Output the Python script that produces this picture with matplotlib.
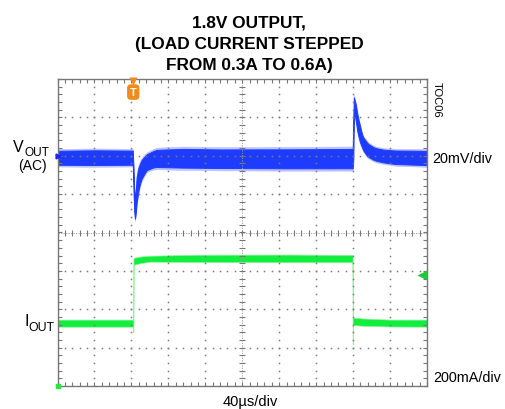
import numpy as np
import matplotlib
matplotlib.use('Agg')
import matplotlib.pyplot as plt
from matplotlib import font_manager as fm

# ---------------- data ----------------
# Channel 1: output voltage (AC coupled), mV, envelope of the noisy trace
t_v = [0, 40, 81.5, 82.2, 83.0, 83.9, 84.8, 85.7, 87.5, 89.3, 91.1, 94.7, 96.6,
       103.7, 107.4, 136, 176, 250, 319.6, 320.2, 320.8, 321.6, 323.0, 324.5,
       326.0, 327.5, 329.7, 331.0, 335.0, 336.5, 342.0, 345.5, 353, 366, 400]
v_hi = [3.5, 3.8, 3.6, -4, -16, -22, -16, -9.5, -5, -2.8, -1, 0.9, 1.8,
        3.5, 4.2, 4.8, 4.5, 4.6, 4.8, 20, 31.8, 30, 27.5, 23,
        19.5, 16.5, 12, 10.4, 7.8, 7.0, 5.3, 4.7, 4.0, 3.6, 3.5]
v_lo = [-5.6, -5.8, -5.6, -18, -30, -34, -31, -26, -20, -16, -13.2, -10, -8.5,
        -7.2, -7.0, -7.4, -7.6, -7.8, -7.8, -4, 18, 21, 17, 12,
        8.7, 6, 3.5, 2, -0.8, -1.4, -2.9, -3.5, -4.3, -5.2, -5.8]

# Channel 2: load current, mA, envelope of the trace
t_i = [0, 81.8, 82.0, 82.2, 82.4, 90, 100, 150, 250, 319.3, 319.5, 319.8,
       320.1, 330, 360, 400]
i_hi = [346, 346, 345, 660, 668, 675, 679, 684, 685, 683, 683, 355,
        357, 352, 346, 346]
i_lo = [309, 309, 280, 280, 632, 640, 648, 646, 645, 645, 216, 216,
        318, 314, 310, 309]

title_lines = ["1.8V OUTPUT,", "(LOAD CURRENT STEPPED", "FROM 0.3A TO 0.6A)"]
v_scale_label = "20mV/div"
i_scale_label = "200mA/div"
time_label = "40\u00b5s/div"
toc_label = "TOC06"

# scope settings
T_DIV = 40.0      # us/div
V_DIV = 20.0      # mV/div
I_DIV = 200.0     # mA/div
V_POS = 2.0       # div (channel 1 reference position)
I_POS = -4.0      # div (channel 2 ground position)
T_TRIG = 82.0     # us
I_TRIG = -1.1     # div (trigger level marker)

# ---------------- styling ----------------
names = {f.name for f in fm.fontManager.ttflist}
NARROW = 'Liberation Sans Narrow' in names
FONT = 'Liberation Sans'
plt.rcParams['font.family'] = [FONT, 'DejaVu Sans']

BLUE = '#1e3cff'
BLUE_HALO = '#a3adff'
GREEN = '#12ee3e'
GREEN_HALO = '#8ef59c'

W, H = 505, 410
fig = plt.figure(figsize=(W / 100, H / 100), dpi=100)
fig.patch.set_facecolor('white')

L, R, T, B = 57.5, 427.0, 80.0, 387.0
rect = [L / W, 1 - B / H, (R - L) / W, (B - T) / H]

# voltage channel axes (mV)
axv = fig.add_axes(rect, frameon=False)
axv.set_xlim(0, 10 * T_DIV)
axv.set_ylim((-4 - V_POS) * V_DIV, (4 - V_POS) * V_DIV)
axv.axis('off')
tv = np.array(t_v); vh = np.array(v_hi); vl = np.array(v_lo)
vm = (vh + vl) / 2; vw = (vh - vl) / 2
axv.fill_between(tv, vl, vh, color=BLUE_HALO, lw=0.4, alpha=0.7)
axv.fill_between(tv, vm - 0.8 * vw, vm + 0.8 * vw, color=BLUE,
                 lw=0.7, ec=BLUE)

# current channel axes (mA)
axi = fig.add_axes(rect, frameon=False)
axi.set_xlim(0, 10 * T_DIV)
axi.set_ylim((-4 - I_POS) * I_DIV, (4 - I_POS) * I_DIV)
axi.axis('off')
ti = np.array(t_i); ih = np.array(i_hi); il = np.array(i_lo)
axi.fill_between(ti, il, ih, color=GREEN, lw=0.5, ec=GREEN_HALO)

# grid axes in divisions (drawn on top, transparent)
ax = fig.add_axes(rect)
ax.set_zorder(5)
ax.patch.set_alpha(0)
ax.set_xlim(0, 10)
ax.set_ylim(-4, 4)
for s in ax.spines.values():
    s.set_color('#777777')
    s.set_linewidth(1.0)
ax.set_xticks([])
ax.set_yticks([])
ax.set_xticks(np.arange(0, 10.01, 0.2), minor=True)
ax.set_yticks(np.arange(-4, 4.01, 0.2), minor=True)
ax.tick_params(which='minor', direction='in', length=3, width=0.8,
               color='#777777', top=True, right=True,
               labelbottom=False, labelleft=False)

dot_c = '#7a7a7a'
xs = np.arange(0, 10.001, 0.2)
ys = np.arange(-4, 4.001, 0.2)
for gx in range(1, 10):
    if gx == 5:
        continue
    ax.plot(np.full_like(ys, gx), ys, ls='none', marker='s', ms=1.1,
            mec='none', mfc=dot_c, zorder=1)
for gy in range(-3, 4):
    if gy == 0:
        continue
    ax.plot(xs, np.full_like(xs, gy), ls='none', marker='s', ms=1.1,
            mec='none', mfc=dot_c, zorder=1)
# centre cross with ticks
ax.plot([0, 10], [0, 0], color='#999999', lw=0.6, ls=(0, (1.5, 1.5)), zorder=1)
ax.plot([5, 5], [-4, 4], color='#999999', lw=0.6, ls=(0, (1.5, 1.5)), zorder=1)
ax.plot(xs, np.zeros_like(xs), ls='none', marker='|', ms=4.5, mew=0.8,
        color='#777777', zorder=1)
ax.plot(np.full_like(ys, 5), ys, ls='none', marker='_', ms=4.5, mew=0.8,
        color='#777777', zorder=1)

# channel markers
ax.plot([0], [V_POS], marker='>', ms=3.5, color='#2020ff', clip_on=False, zorder=5)
ax.plot([0], [I_POS], marker='s', ms=3.5, color='#2ee23c', clip_on=False, zorder=5)
ax.plot([9.86], [I_TRIG], marker='<', ms=6.5, color='#20c83a', mec='none', zorder=5)
ax.plot([9.86, 9.99], [I_TRIG, I_TRIG], color='#20c83a', lw=1.0, zorder=5)

# trigger marker (orange "T")
tx = T_TRIG / T_DIV
ax.plot([tx], [3.96], marker='v', ms=6, color='#f08a1c', mec='none',
        clip_on=False, zorder=6)
ax.text(tx, 3.66, 'T', ha='center', va='center', color='white', fontsize=8,
        fontweight='bold',
        bbox=dict(boxstyle='round,pad=0.25,rounding_size=0.35', fc='#f08a1c',
                  ec='none'), zorder=6)

# ---------------- text ----------------
def fx(px):
    return px / W

def fy(py):
    return 1 - py / H

if NARROW:
    tfam, tsize = ['Liberation Sans Narrow', FONT], 14.6
else:
    tfam, tsize = [FONT], 12.4
for line, base in zip(title_lines, [27.5, 49.0, 70.5]):
    fig.text(fx(249), fy(base), line, ha='center', va='baseline',
             family=tfam, fontsize=tsize, fontweight='bold')

fig.text(fx(432), fy(163), v_scale_label, ha='left', va='baseline', fontsize=10.4)
fig.text(fx(433), fy(382.5), i_scale_label, ha='left', va='baseline', fontsize=10.4)
fig.text(fx(250), fy(406), time_label, ha='center', va='baseline', fontsize=10.5)
fig.text(fx(437), fy(82), toc_label, ha='center', va='top', rotation=-90,
         fontsize=8)

fig.text(fx(13.3), fy(151.7), 'V', ha='left', va='baseline', fontsize=11.5)
fig.text(fx(24.3), fy(156.5), 'OUT', ha='left', va='baseline', fontsize=8.6)
fig.text(fx(18.3), fy(170.5), '(AC)', ha='left', va='baseline', fontsize=10)
fig.text(fx(24.0), fy(325.7), 'I', ha='left', va='baseline', fontsize=11.5)
fig.text(fx(28.0), fy(331), 'OUT', ha='left', va='baseline', fontsize=8.8)

fig.savefig('out.png', dpi=100, facecolor='white')
